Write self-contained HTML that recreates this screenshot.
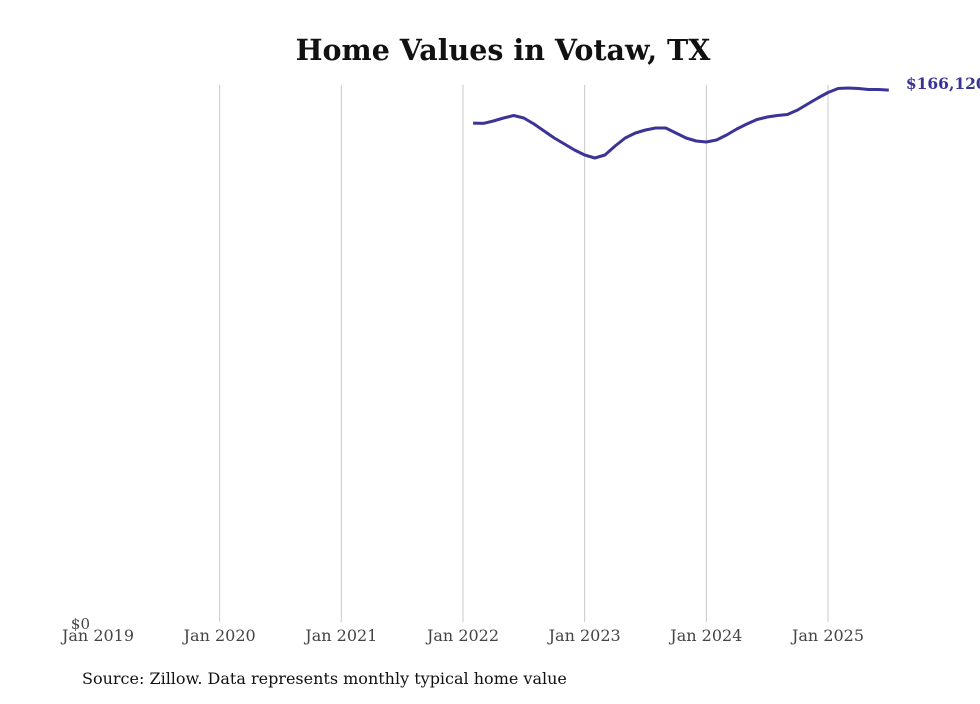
<!DOCTYPE html>
<html><head><meta charset="utf-8"><style>
body{margin:0;background:#fff;width:980px;height:699px;overflow:hidden}
svg text{font-family:"DejaVu Serif","Liberation Serif",serif}
</style></head><body>
<svg id="chart" width="980" height="699">
<text x="503" y="60" text-anchor="middle" font-size="28.5" font-weight="bold" fill="#111">Home Values in Votaw, TX</text>
<g id="grid"></g><g id="xt"></g>
<text x="90" y="629" text-anchor="end" font-size="15" fill="#444">$0</text>
<path id="line" fill="none" stroke="#3b3497" stroke-width="3" stroke-linejoin="round"/>
<text id="endlbl" font-size="15.5" font-weight="bold" fill="#3b3497"></text>
<text x="82" y="684" font-size="16" fill="#111">Source: Zillow. Data represents monthly typical home value</text>
</svg>
<script>
const tickLabels=["Jan 2019","Jan 2020","Jan 2021","Jan 2022","Jan 2023","Jan 2024","Jan 2025"];
const startMonth=37; // months since Jan 2019 (Feb 2022)
const values=[155800,155700,156460,157400,158180,157400,155520,153330,151150,149280,147400,145840,144900,145840,148650,151150,152710,153650,154270,154270,152710,151150,150210,149900,150530,152090,153960,155520,156930,157710,158180,158490,159900,161770,163640,165360,166610,166770,166610,166300,166300,166120];
const yMax=167700;
const X=m=>98+m*(730/72);
const Y=v=>622-v/yMax*537;
const ns="http://www.w3.org/2000/svg";
const grid=document.getElementById('grid'),xt=document.getElementById('xt');
tickLabels.forEach((t,i)=>{
  const x=X(i*12);
  if(i>0){const l=document.createElementNS(ns,'line');
  l.setAttribute('x1',x);l.setAttribute('x2',x);l.setAttribute('y1',85);l.setAttribute('y2',622);
  l.setAttribute('stroke','#c8c8c8');l.setAttribute('stroke-width','1');
  
  
  grid.appendChild(l);}
  const tx=document.createElementNS(ns,'text');
  tx.setAttribute('x',x);tx.setAttribute('y',641);tx.setAttribute('text-anchor','middle');
  tx.setAttribute('font-size','16');tx.setAttribute('fill','#444');tx.textContent=t;
  
  
  xt.appendChild(tx);
});
document.getElementById('line').setAttribute('d',values.map((v,i)=>(i?'L':'M')+X(startMonth+i).toFixed(1)+','+Y(v).toFixed(1)).join(''));
const last=values[values.length-1],el=document.getElementById('endlbl');
el.setAttribute('x',X(startMonth+values.length-1)+17);el.setAttribute('y',Y(last)-1);
el.textContent='$'+last.toLocaleString('en-US');
</script>
</body></html>
